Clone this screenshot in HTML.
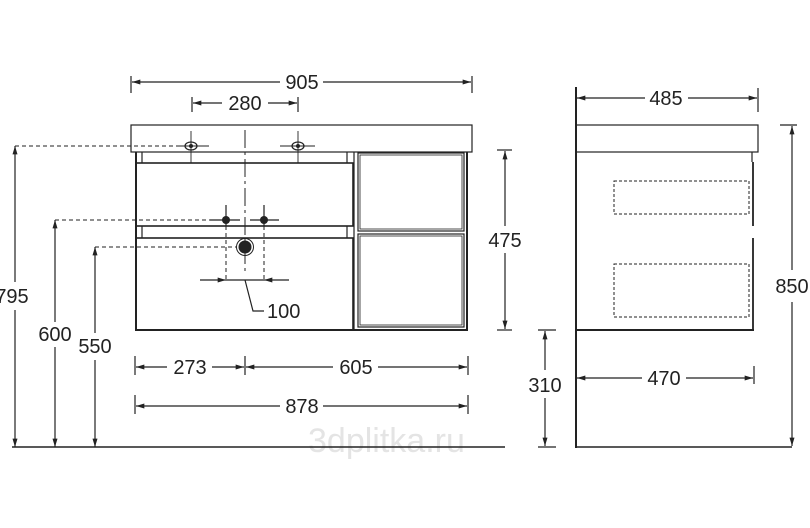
<!DOCTYPE html>
<html><head><meta charset="utf-8"><style>
html,body{margin:0;padding:0;background:#fff;width:810px;height:528px;overflow:hidden}
svg{display:block}
text{font-family:"Liberation Sans",sans-serif;font-size:20px;fill:#222}
</style></head><body>
<svg width="810" height="528" viewBox="0 0 810 528" xmlns="http://www.w3.org/2000/svg">
<defs>
<marker id="a" viewBox="0 0 10 6" refX="10" refY="3" markerWidth="12" markerHeight="5" orient="auto-start-reverse" markerUnits="userSpaceOnUse"><path d="M0,0L10,3L0,6z" fill="#222"/></marker>
</defs>
<text x="308" y="452" style="font-size:34px;fill:#e4e4e4">3dplitka.ru</text>
<g stroke="#222" fill="none" stroke-width="1.2">
<line x1="131" y1="76" x2="131" y2="93"/><line x1="472" y1="76" x2="472" y2="93"/>
<line x1="132" y1="82" x2="280" y2="82" marker-start="url(#a)"/>
<line x1="323" y1="82" x2="471" y2="82" marker-end="url(#a)"/>
<line x1="192" y1="97" x2="192" y2="112"/><line x1="298" y1="97" x2="298" y2="112"/>
<line x1="193" y1="103" x2="222" y2="103" marker-start="url(#a)"/>
<line x1="268" y1="103" x2="297" y2="103" marker-end="url(#a)"/>
<rect x="131" y="125" width="341" height="27"/>
<line x1="136" y1="152" x2="136" y2="331" stroke-width="2"/>
<line x1="142" y1="152" x2="142" y2="163"/><line x1="142" y1="226" x2="142" y2="238"/>
<line x1="347" y1="152" x2="347" y2="163"/><line x1="347" y1="226" x2="347" y2="238"/>
<rect x="136" y="163" width="217" height="63" stroke-width="1.6"/>
<rect x="136" y="238" width="217" height="92" stroke-width="1.6"/>
<line x1="354" y1="152" x2="354" y2="331"/>
<line x1="467" y1="152" x2="467" y2="331" stroke-width="2"/>
<line x1="136" y1="330" x2="468" y2="330" stroke-width="2"/>
<rect x="358" y="153" width="106" height="78"/><rect x="360" y="155" width="102" height="74" stroke-width="0.8"/>
<rect x="358" y="234" width="106" height="93"/><rect x="360" y="236" width="102" height="89" stroke-width="0.8"/>
<line x1="191" y1="131" x2="191" y2="163" stroke-width="0.9"/><line x1="178" y1="146" x2="209" y2="146" stroke-width="0.9"/>
<ellipse cx="191" cy="146" rx="6" ry="4"/>
<line x1="298" y1="131" x2="298" y2="163" stroke-width="0.9"/><line x1="280" y1="146" x2="315" y2="146" stroke-width="0.9"/>
<ellipse cx="298" cy="146" rx="6" ry="4"/>
<line x1="245" y1="130" x2="245" y2="272" stroke-dasharray="18,4,3,4" stroke-width="1"/>
<line x1="226" y1="205" x2="226" y2="226"/><line x1="264" y1="205" x2="264" y2="226"/>
<line x1="210" y1="220" x2="240" y2="220"/><line x1="250" y1="220" x2="279" y2="220"/>
<line x1="226" y1="226" x2="226" y2="282" stroke-dasharray="4,3" stroke-width="1"/>
<line x1="264" y1="226" x2="264" y2="282" stroke-dasharray="4,3" stroke-width="1"/>
<circle cx="245" cy="247" r="8.5" stroke-width="1"/>
<line x1="200" y1="280" x2="226" y2="280" marker-end="url(#a)"/>
<line x1="289" y1="280" x2="264" y2="280" marker-end="url(#a)"/>
<line x1="226" y1="280" x2="264" y2="280"/>
<polyline points="245,280 253,311 264,311"/>
<line x1="15" y1="146" x2="180" y2="146" stroke-dasharray="4,3" stroke-width="1"/>
<line x1="55" y1="220" x2="220" y2="220" stroke-dasharray="4,3" stroke-width="1"/>
<line x1="95" y1="247" x2="236" y2="247" stroke-dasharray="4,3" stroke-width="1"/>
<line x1="15" y1="146" x2="15" y2="282" marker-start="url(#a)"/><line x1="15" y1="310" x2="15" y2="447" marker-end="url(#a)"/>
<line x1="55" y1="220" x2="55" y2="322" marker-start="url(#a)"/><line x1="55" y1="347" x2="55" y2="447" marker-end="url(#a)"/>
<line x1="95" y1="247" x2="95" y2="333" marker-start="url(#a)"/><line x1="95" y1="360" x2="95" y2="447" marker-end="url(#a)"/>
<line x1="12" y1="447" x2="505" y2="447" stroke-width="1.6"/>
<line x1="135" y1="356" x2="135" y2="375"/><line x1="245" y1="356" x2="245" y2="375"/><line x1="468" y1="356" x2="468" y2="375"/>
<line x1="136" y1="367" x2="167" y2="367" marker-start="url(#a)"/>
<line x1="212" y1="367" x2="244" y2="367" marker-end="url(#a)"/>
<line x1="246" y1="367" x2="333" y2="367" marker-start="url(#a)"/>
<line x1="378" y1="367" x2="467" y2="367" marker-end="url(#a)"/>
<line x1="135" y1="395" x2="135" y2="414"/><line x1="468" y1="395" x2="468" y2="414"/>
<line x1="136" y1="406" x2="280" y2="406" marker-start="url(#a)"/>
<line x1="323" y1="406" x2="467" y2="406" marker-end="url(#a)"/>
<line x1="497" y1="150" x2="512" y2="150"/><line x1="497" y1="330" x2="512" y2="330"/>
<line x1="505" y1="151" x2="505" y2="226" marker-start="url(#a)"/>
<line x1="505" y1="253" x2="505" y2="329" marker-end="url(#a)"/>
<line x1="576" y1="87" x2="576" y2="448" stroke-width="2"/>
<line x1="758" y1="88" x2="758" y2="112"/>
<line x1="577" y1="98" x2="645" y2="98" marker-start="url(#a)"/>
<line x1="688" y1="98" x2="757" y2="98" marker-end="url(#a)"/>
<rect x="576" y="125" width="182" height="27"/>
<line x1="753" y1="162" x2="753" y2="226" stroke-width="1.8"/>
<line x1="753" y1="238" x2="753" y2="330" stroke-width="1.8"/>
<line x1="752" y1="152" x2="752" y2="162"/>
<line x1="576" y1="330" x2="754" y2="330" stroke-width="2"/>
<rect x="614" y="181" width="135" height="33" stroke-dasharray="3,2" stroke-width="1"/>
<rect x="614" y="264" width="135" height="53" stroke-dasharray="3,2" stroke-width="1"/>
<line x1="780" y1="125" x2="797" y2="125"/>
<line x1="792" y1="126" x2="792" y2="270" marker-start="url(#a)"/>
<line x1="792" y1="302" x2="792" y2="446" marker-end="url(#a)"/>
<line x1="576" y1="447" x2="792" y2="447" stroke-width="1.6"/>
<line x1="538" y1="330" x2="556" y2="330"/><line x1="538" y1="447" x2="556" y2="447"/>
<line x1="545" y1="331" x2="545" y2="370" marker-start="url(#a)"/>
<line x1="545" y1="398" x2="545" y2="446" marker-end="url(#a)"/>
<line x1="754" y1="366" x2="754" y2="384"/>
<line x1="577" y1="378" x2="642" y2="378" marker-start="url(#a)"/>
<line x1="686" y1="378" x2="753" y2="378" marker-end="url(#a)"/>
</g>
<g fill="#222">
<circle cx="191" cy="146" r="2"/><circle cx="298" cy="146" r="2"/>
<circle cx="226" cy="220" r="4"/><circle cx="264" cy="220" r="4"/>
<circle cx="245" cy="247" r="6.5"/>
</g>
<text x="302" y="89" text-anchor="middle">905</text>
<text x="245" y="110" text-anchor="middle">280</text>
<text x="267" y="318">100</text>
<text x="12" y="303" text-anchor="middle">795</text>
<text x="55" y="341" text-anchor="middle">600</text>
<text x="95" y="353" text-anchor="middle">550</text>
<text x="190" y="374" text-anchor="middle">273</text>
<text x="356" y="374" text-anchor="middle">605</text>
<text x="302" y="413" text-anchor="middle">878</text>
<text x="505" y="247" text-anchor="middle">475</text>
<text x="666" y="105" text-anchor="middle">485</text>
<text x="792" y="293" text-anchor="middle">850</text>
<text x="545" y="392" text-anchor="middle">310</text>
<text x="664" y="385" text-anchor="middle">470</text>
</svg>
</body></html>
